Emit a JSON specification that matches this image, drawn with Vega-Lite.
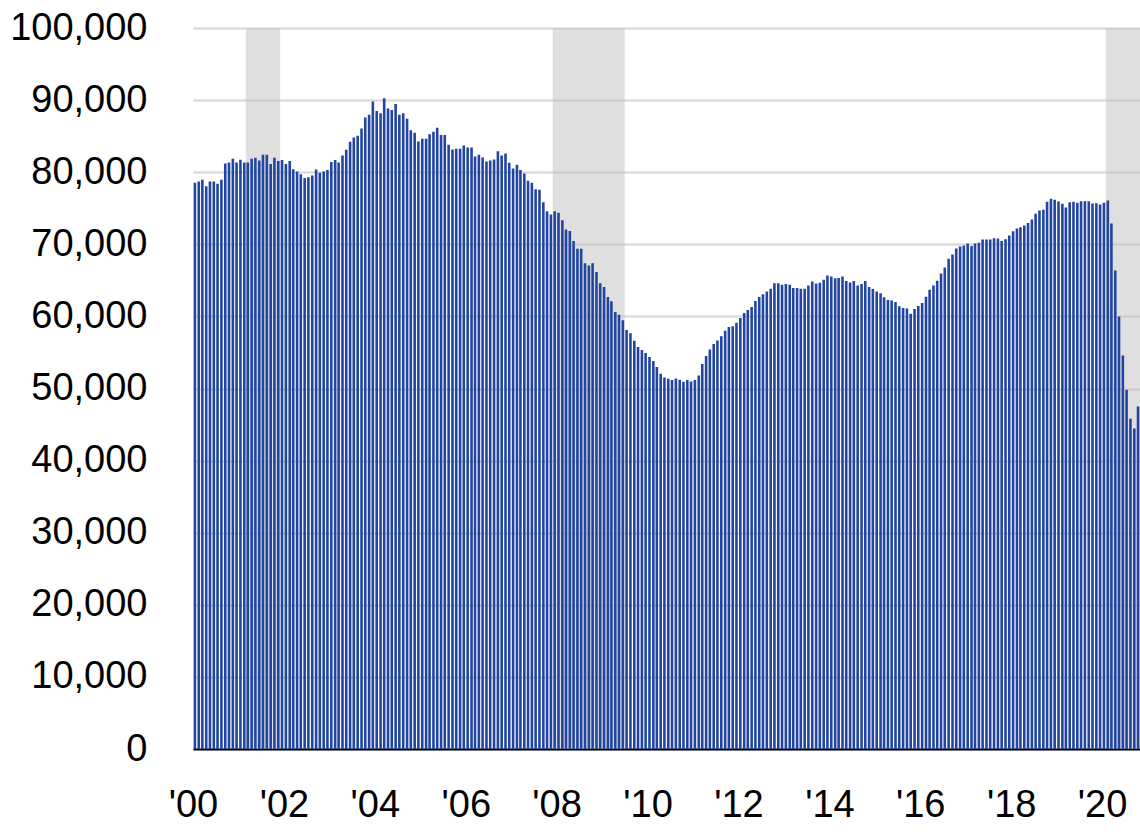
{
  "$schema": "https://vega.github.io/schema/vega-lite/v6.json",
  "width": 947,
  "height": 721,
  "autosize": {"type": "none"},
  "padding": {"left": 193, "top": 28, "right": 0, "bottom": 87},
  "background": "white",
  "config": {
    "view": {"stroke": null},
    "font": "Liberation Sans, Arial, sans-serif"
  },
  "datasets": {
    "recessions": [
      {"start": "2001-03-01", "end": "2001-12-01"},
      {"start": "2007-12-01", "end": "2009-07-01"},
      {"start": "2020-02-01", "end": "2020-11-01"}
    ],
    "series": [
      {"month": "2000-01-01", "value": 78530}, {"month": "2000-02-01", "value": 78720}, {"month": "2000-03-01", "value": 78950}, {"month": "2000-04-01", "value": 78060},
      {"month": "2000-05-01", "value": 78720}, {"month": "2000-06-01", "value": 78720}, {"month": "2000-07-01", "value": 78390}, {"month": "2000-08-01", "value": 78950},
      {"month": "2000-09-01", "value": 81220}, {"month": "2000-10-01", "value": 81360}, {"month": "2000-11-01", "value": 81870}, {"month": "2000-12-01", "value": 81360},
      {"month": "2001-01-01", "value": 81730}, {"month": "2001-02-01", "value": 81360}, {"month": "2001-03-01", "value": 81360}, {"month": "2001-04-01", "value": 81870},
      {"month": "2001-05-01", "value": 82000}, {"month": "2001-06-01", "value": 81630}, {"month": "2001-07-01", "value": 82420}, {"month": "2001-08-01", "value": 82420},
      {"month": "2001-09-01", "value": 81130}, {"month": "2001-10-01", "value": 82000}, {"month": "2001-11-01", "value": 81540}, {"month": "2001-12-01", "value": 81680},
      {"month": "2002-01-01", "value": 81130}, {"month": "2002-02-01", "value": 81540}, {"month": "2002-03-01", "value": 80420}, {"month": "2002-04-01", "value": 80110},
      {"month": "2002-05-01", "value": 79730}, {"month": "2002-06-01", "value": 79180}, {"month": "2002-07-01", "value": 79310}, {"month": "2002-08-01", "value": 79550},
      {"month": "2002-09-01", "value": 80380}, {"month": "2002-10-01", "value": 79920}, {"month": "2002-11-01", "value": 80110}, {"month": "2002-12-01", "value": 80290},
      {"month": "2003-01-01", "value": 81400}, {"month": "2003-02-01", "value": 81680}, {"month": "2003-03-01", "value": 81360}, {"month": "2003-04-01", "value": 82330},
      {"month": "2003-05-01", "value": 83120}, {"month": "2003-06-01", "value": 84230}, {"month": "2003-07-01", "value": 84830}, {"month": "2003-08-01", "value": 85060},
      {"month": "2003-09-01", "value": 86070}, {"month": "2003-10-01", "value": 87600}, {"month": "2003-11-01", "value": 87970}, {"month": "2003-12-01", "value": 89820},
      {"month": "2004-01-01", "value": 88480}, {"month": "2004-02-01", "value": 88160}, {"month": "2004-03-01", "value": 90240}, {"month": "2004-04-01", "value": 88850},
      {"month": "2004-05-01", "value": 88620}, {"month": "2004-06-01", "value": 89450}, {"month": "2004-07-01", "value": 87970}, {"month": "2004-08-01", "value": 88160},
      {"month": "2004-09-01", "value": 87400}, {"month": "2004-10-01", "value": 85820}, {"month": "2004-11-01", "value": 85480}, {"month": "2004-12-01", "value": 84270},
      {"month": "2005-01-01", "value": 84640}, {"month": "2005-02-01", "value": 84640}, {"month": "2005-03-01", "value": 85250}, {"month": "2005-04-01", "value": 85620},
      {"month": "2005-05-01", "value": 86170}, {"month": "2005-06-01", "value": 85150}, {"month": "2005-07-01", "value": 85150}, {"month": "2005-08-01", "value": 83810},
      {"month": "2005-09-01", "value": 83160}, {"month": "2005-10-01", "value": 83250}, {"month": "2005-11-01", "value": 83250}, {"month": "2005-12-01", "value": 83720},
      {"month": "2006-01-01", "value": 83440}, {"month": "2006-02-01", "value": 83440}, {"month": "2006-03-01", "value": 82190}, {"month": "2006-04-01", "value": 82420},
      {"month": "2006-05-01", "value": 82050}, {"month": "2006-06-01", "value": 81500}, {"month": "2006-07-01", "value": 81630}, {"month": "2006-08-01", "value": 81770},
      {"month": "2006-09-01", "value": 82920}, {"month": "2006-10-01", "value": 82330}, {"month": "2006-11-01", "value": 82610}, {"month": "2006-12-01", "value": 81310},
      {"month": "2007-01-01", "value": 80520}, {"month": "2007-02-01", "value": 81030}, {"month": "2007-03-01", "value": 80290}, {"month": "2007-04-01", "value": 79830},
      {"month": "2007-05-01", "value": 78810}, {"month": "2007-06-01", "value": 78530}, {"month": "2007-07-01", "value": 77640}, {"month": "2007-08-01", "value": 77560},
      {"month": "2007-09-01", "value": 75840}, {"month": "2007-10-01", "value": 74590}, {"month": "2007-11-01", "value": 74130}, {"month": "2007-12-01", "value": 74590},
      {"month": "2008-01-01", "value": 74370}, {"month": "2008-02-01", "value": 73340}, {"month": "2008-03-01", "value": 72050}, {"month": "2008-04-01", "value": 71860},
      {"month": "2008-05-01", "value": 70470}, {"month": "2008-06-01", "value": 69400}, {"month": "2008-07-01", "value": 69400}, {"month": "2008-08-01", "value": 67370},
      {"month": "2008-09-01", "value": 67050}, {"month": "2008-10-01", "value": 67370}, {"month": "2008-11-01", "value": 66170}, {"month": "2008-12-01", "value": 64590},
      {"month": "2009-01-01", "value": 64090}, {"month": "2009-02-01", "value": 62700}, {"month": "2009-03-01", "value": 62090}, {"month": "2009-04-01", "value": 60620},
      {"month": "2009-05-01", "value": 60240}, {"month": "2009-06-01", "value": 59450}, {"month": "2009-07-01", "value": 58120}, {"month": "2009-08-01", "value": 57650},
      {"month": "2009-09-01", "value": 56630}, {"month": "2009-10-01", "value": 55750}, {"month": "2009-11-01", "value": 55340}, {"month": "2009-12-01", "value": 54920},
      {"month": "2010-01-01", "value": 54370}, {"month": "2010-02-01", "value": 53810}, {"month": "2010-03-01", "value": 52980}, {"month": "2010-04-01", "value": 52050},
      {"month": "2010-05-01", "value": 51540}, {"month": "2010-06-01", "value": 51350}, {"month": "2010-07-01", "value": 51170}, {"month": "2010-08-01", "value": 51400},
      {"month": "2010-09-01", "value": 51220}, {"month": "2010-10-01", "value": 50940}, {"month": "2010-11-01", "value": 51170}, {"month": "2010-12-01", "value": 50980},
      {"month": "2011-01-01", "value": 51170}, {"month": "2011-02-01", "value": 51810}, {"month": "2011-03-01", "value": 53400}, {"month": "2011-04-01", "value": 54510},
      {"month": "2011-05-01", "value": 55420}, {"month": "2011-06-01", "value": 56170}, {"month": "2011-07-01", "value": 56670}, {"month": "2011-08-01", "value": 57230},
      {"month": "2011-09-01", "value": 58020}, {"month": "2011-10-01", "value": 58530}, {"month": "2011-11-01", "value": 58620}, {"month": "2011-12-01", "value": 59130},
      {"month": "2012-01-01", "value": 59780}, {"month": "2012-02-01", "value": 60480}, {"month": "2012-03-01", "value": 60900}, {"month": "2012-04-01", "value": 61310},
      {"month": "2012-05-01", "value": 62150}, {"month": "2012-06-01", "value": 62700}, {"month": "2012-07-01", "value": 63060}, {"month": "2012-08-01", "value": 63440},
      {"month": "2012-09-01", "value": 63850}, {"month": "2012-10-01", "value": 64590}, {"month": "2012-11-01", "value": 64590}, {"month": "2012-12-01", "value": 64400},
      {"month": "2013-01-01", "value": 64500}, {"month": "2013-02-01", "value": 64400}, {"month": "2013-03-01", "value": 63950}, {"month": "2013-04-01", "value": 63950},
      {"month": "2013-05-01", "value": 63850}, {"month": "2013-06-01", "value": 63850}, {"month": "2013-07-01", "value": 64270}, {"month": "2013-08-01", "value": 64830},
      {"month": "2013-09-01", "value": 64550}, {"month": "2013-10-01", "value": 64650}, {"month": "2013-11-01", "value": 65100}, {"month": "2013-12-01", "value": 65660},
      {"month": "2014-01-01", "value": 65520}, {"month": "2014-02-01", "value": 65280}, {"month": "2014-03-01", "value": 65330}, {"month": "2014-04-01", "value": 65520},
      {"month": "2014-05-01", "value": 64920}, {"month": "2014-06-01", "value": 64690}, {"month": "2014-07-01", "value": 64920}, {"month": "2014-08-01", "value": 64270},
      {"month": "2014-09-01", "value": 64500}, {"month": "2014-10-01", "value": 64920}, {"month": "2014-11-01", "value": 64090}, {"month": "2014-12-01", "value": 63810},
      {"month": "2015-01-01", "value": 63440}, {"month": "2015-02-01", "value": 63200}, {"month": "2015-03-01", "value": 62650}, {"month": "2015-04-01", "value": 62280},
      {"month": "2015-05-01", "value": 62190}, {"month": "2015-06-01", "value": 62010}, {"month": "2015-07-01", "value": 61400}, {"month": "2015-08-01", "value": 61170},
      {"month": "2015-09-01", "value": 61080}, {"month": "2015-10-01", "value": 60380}, {"month": "2015-11-01", "value": 61030}, {"month": "2015-12-01", "value": 61450},
      {"month": "2016-01-01", "value": 61870}, {"month": "2016-02-01", "value": 62720}, {"month": "2016-03-01", "value": 63710}, {"month": "2016-04-01", "value": 64270},
      {"month": "2016-05-01", "value": 64960}, {"month": "2016-06-01", "value": 65940}, {"month": "2016-07-01", "value": 66770}, {"month": "2016-08-01", "value": 67980},
      {"month": "2016-09-01", "value": 68580}, {"month": "2016-10-01", "value": 69410}, {"month": "2016-11-01", "value": 69690}, {"month": "2016-12-01", "value": 69830},
      {"month": "2017-01-01", "value": 70100}, {"month": "2017-02-01", "value": 69780}, {"month": "2017-03-01", "value": 70100}, {"month": "2017-04-01", "value": 70200},
      {"month": "2017-05-01", "value": 70660}, {"month": "2017-06-01", "value": 70660}, {"month": "2017-07-01", "value": 70660}, {"month": "2017-08-01", "value": 70840},
      {"month": "2017-09-01", "value": 70800}, {"month": "2017-10-01", "value": 70470}, {"month": "2017-11-01", "value": 70700}, {"month": "2017-12-01", "value": 71220},
      {"month": "2018-01-01", "value": 71810}, {"month": "2018-02-01", "value": 72190}, {"month": "2018-03-01", "value": 72370}, {"month": "2018-04-01", "value": 72600},
      {"month": "2018-05-01", "value": 72970}, {"month": "2018-06-01", "value": 73440}, {"month": "2018-07-01", "value": 74230}, {"month": "2018-08-01", "value": 74690},
      {"month": "2018-09-01", "value": 74780}, {"month": "2018-10-01", "value": 75890}, {"month": "2018-11-01", "value": 76310}, {"month": "2018-12-01", "value": 76170},
      {"month": "2019-01-01", "value": 75940}, {"month": "2019-02-01", "value": 75610}, {"month": "2019-03-01", "value": 75100}, {"month": "2019-04-01", "value": 75840},
      {"month": "2019-05-01", "value": 75890}, {"month": "2019-06-01", "value": 75750}, {"month": "2019-07-01", "value": 75980}, {"month": "2019-08-01", "value": 75980},
      {"month": "2019-09-01", "value": 75980}, {"month": "2019-10-01", "value": 75660}, {"month": "2019-11-01", "value": 75700}, {"month": "2019-12-01", "value": 75520},
      {"month": "2020-01-01", "value": 75750}, {"month": "2020-02-01", "value": 76080}, {"month": "2020-03-01", "value": 72880}, {"month": "2020-04-01", "value": 66350},
      {"month": "2020-05-01", "value": 59970}, {"month": "2020-06-01", "value": 54590}, {"month": "2020-07-01", "value": 49820}, {"month": "2020-08-01", "value": 45800},
      {"month": "2020-09-01", "value": 44450}, {"month": "2020-10-01", "value": 47500}
    ]
  },
  "layer": [
    {
      "data": {"name": "recessions"},
      "mark": {"type": "rect", "color": "#C4C4C4", "opacity": 0.55},
      "encoding": {
        "x": {"field": "start", "type": "temporal"},
        "x2": {"field": "end"},
        "y": {"datum": 100000, "type": "quantitative"},
        "y2": {"datum": 0}
      }
    },
    {
      "data": {"name": "series"},
      "mark": {"type": "bar", "color": "#2145A0", "width": 2.6, "xOffset": 1.9},
      "encoding": {
        "x": {"field": "month", "type": "temporal"},
        "y": {"field": "value", "type": "quantitative"}
      }
    }
  ],
  "encoding": {
    "x": {
      "type": "temporal",
      "title": null,
      "scale": {
        "type": "utc",
        "nice": false,
        "padding": 0,
        "domain": [
          {"year": 2000, "month": 1, "date": 1, "utc": true},
          {"year": 2020, "month": 11, "date": 1, "utc": true}
        ]
      },
      "axis": {
        "labelExpr": "\"'\" + utcFormat(datum.value, '%y')",
        "tickCount": {"interval": "year", "step": 2},
        "grid": false,
        "ticks": false,
        "domain": true,
        "domainColor": "#000000",
        "domainWidth": 2,
        "labelFontSize": 38,
        "labelColor": "#000000",
        "labelBaseline": "middle",
        "labelPadding": 56,
        "labelFlush": false,
        "labelOverlap": false
      }
    },
    "y": {
      "type": "quantitative",
      "title": null,
      "scale": {"domain": [0, 100000], "nice": false, "zero": true},
      "axis": {
        "values": [0, 10000, 20000, 30000, 40000, 50000, 60000, 70000, 80000, 90000, 100000],
        "format": ",d",
        "grid": true,
        "gridColor": "#D6D6D6",
        "gridWidth": 2,
        "ticks": false,
        "domain": false,
        "labelFontSize": 38,
        "labelColor": "#000000",
        "labelPadding": 46,
        "labelFlush": false,
        "labelOverlap": false
      }
    }
  }
}
